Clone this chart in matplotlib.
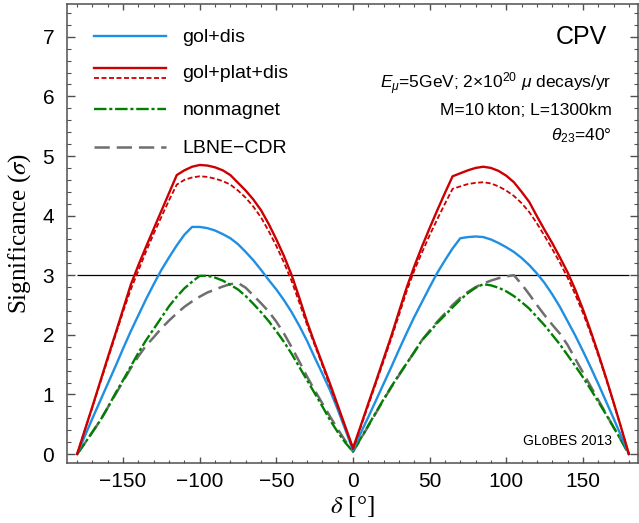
import matplotlib
matplotlib.use("Agg")
import matplotlib.pyplot as plt
from matplotlib.ticker import MultipleLocator

plt.rcParams['font.family'] = ['Liberation Sans', 'DejaVu Sans']
plt.rcParams['mathtext.fontset'] = 'custom'
plt.rcParams['mathtext.rm'] = 'Liberation Sans'
plt.rcParams['mathtext.it'] = 'Liberation Sans:italic'
plt.rcParams['lines.scale_dashes'] = False

delta = list(range(-180, 181, 5))

gol_dis = [0.00, 0.30, 0.60, 0.89, 1.18, 1.47, 1.77, 2.06, 2.33, 2.60, 2.85, 3.09, 3.30, 3.50, 3.68,
           3.81, 3.81, 3.79, 3.75, 3.69, 3.62, 3.52, 3.39, 3.25, 3.09, 2.92, 2.76, 2.58, 2.38, 2.15,
           1.90, 1.62, 1.35, 1.07, 0.75, 0.41, 0.06,
           0.35, 0.62, 0.90, 1.18, 1.46, 1.75, 2.03, 2.30, 2.55, 2.80, 3.04, 3.25, 3.45, 3.62, 3.64,
           3.65, 3.64, 3.60, 3.54, 3.47, 3.39, 3.29, 3.17, 3.03, 2.87, 2.68, 2.47, 2.23, 1.99, 1.73,
           1.46, 1.18, 0.89, 0.60, 0.30, 0.00]

gol_plat_dis = [0.00, 0.40, 0.80, 1.21, 1.62, 2.02, 2.43, 2.84, 3.17, 3.48, 3.78, 4.08, 4.38, 4.68, 4.76,
                4.82, 4.85, 4.84, 4.81, 4.76, 4.68, 4.55, 4.42, 4.27, 4.09, 3.86, 3.60, 3.32, 3.00, 2.62,
                2.22, 1.86, 1.52, 1.18, 0.82, 0.46, 0.10,
                0.47, 0.85, 1.22, 1.60, 1.98, 2.39, 2.79, 3.15, 3.48, 3.79, 4.09, 4.38, 4.66, 4.71, 4.76,
                4.80, 4.82, 4.80, 4.75, 4.67, 4.56, 4.40, 4.23, 3.99, 3.76, 3.54, 3.30, 3.05, 2.76, 2.43,
                2.07, 1.69, 1.29, 0.87, 0.44, 0.00]

gol_plat_dis_alt = [0.00, 0.40, 0.79, 1.19, 1.59, 1.99, 2.39, 2.76, 3.08, 3.40, 3.70, 3.98, 4.26, 4.52, 4.60,
                    4.64, 4.66, 4.65, 4.62, 4.58, 4.52, 4.42, 4.30, 4.15, 3.97, 3.74, 3.49, 3.21, 2.90, 2.54,
                    2.17, 1.83, 1.49, 1.14, 0.79, 0.44, 0.08,
                    0.45, 0.82, 1.19, 1.56, 1.94, 2.33, 2.73, 3.08, 3.38, 3.67, 3.94, 4.20, 4.45, 4.49, 4.53,
                    4.55, 4.56, 4.54, 4.49, 4.42, 4.33, 4.21, 4.06, 3.87, 3.66, 3.44, 3.21, 2.96, 2.68, 2.37,
                    2.03, 1.66, 1.27, 0.86, 0.44, 0.00]

nonmagnet = [0.00, 0.18, 0.37, 0.56, 0.78, 1.02, 1.24, 1.47, 1.70, 1.91, 2.10, 2.29, 2.48, 2.64, 2.78,
             2.89, 2.99, 2.99, 2.96, 2.91, 2.84, 2.76, 2.65, 2.52, 2.38, 2.23, 2.06, 1.88, 1.68, 1.46,
             1.24, 1.02, 0.80, 0.57, 0.37, 0.19, 0.04,
             0.26, 0.48, 0.70, 0.92, 1.13, 1.33, 1.52, 1.71, 1.91, 2.05, 2.20, 2.33, 2.46, 2.59, 2.70,
             2.79, 2.85, 2.83, 2.79, 2.73, 2.65, 2.55, 2.44, 2.30, 2.16, 2.00, 1.84, 1.66, 1.48, 1.29,
             1.09, 0.88, 0.67, 0.45, 0.23, 0.00]

lbne_cdr = [0.00, 0.18, 0.37, 0.56, 0.78, 1.00, 1.22, 1.44, 1.64, 1.82, 1.96, 2.11, 2.24, 2.36, 2.47,
            2.56, 2.64, 2.71, 2.76, 2.81, 2.85, 2.87, 2.79, 2.66, 2.53, 2.39, 2.22, 2.02, 1.79, 1.55,
            1.30, 1.07, 0.85, 0.63, 0.42, 0.22, 0.04,
            0.25, 0.47, 0.69, 0.91, 1.12, 1.32, 1.52, 1.71, 1.91, 2.07, 2.22, 2.36, 2.50, 2.62, 2.72,
            2.80, 2.86, 2.91, 2.95, 2.98, 3.00, 2.85, 2.68, 2.50, 2.33, 2.17, 2.02, 1.83, 1.60, 1.37,
            1.14, 0.91, 0.68, 0.45, 0.23, 0.00]

threshold = 3.0

legend_labels = ["gol+dis", "gol+plat+dis", "nonmagnet", "LBNE\u2212CDR"]

C_BLUE = '#1E8FE3'
C_RED = '#CC0000'
C_GREEN = '#008000'
C_GRAY = '#6E6E6E'
LS_RED_D = (0, (3.6, 1.8))
LS_GREEN = (0, (9.0, 2.0, 2.2, 2.0))
LS_GRAY = (0, (11.0, 5.0))

fig = plt.figure(figsize=(6.39, 5.23), dpi=100)
ax = fig.add_axes([0.1044, 0.1141, 0.8941, 0.8782])

ax.hlines(threshold, delta[0], delta[-1], color='black', lw=0.9, zorder=1)
ax.plot(delta, lbne_cdr, color=C_GRAY, lw=1.8, ls=LS_GRAY, dash_capstyle='butt', zorder=2)
ax.plot(delta, nonmagnet, color=C_GREEN, lw=1.7, ls=LS_GREEN, dash_capstyle='butt', zorder=3)
ax.plot(delta, gol_dis, color=C_BLUE, lw=1.7, zorder=4)
ax.plot(delta, gol_plat_dis_alt, color=C_RED, lw=1.3, ls=LS_RED_D, dash_capstyle='butt', zorder=5)
ax.plot(delta, gol_plat_dis, color=C_RED, lw=1.7, zorder=6)

ax.set_xlim(-186.8, 186.0)
ax.set_ylim(-0.156, 7.55)

ax.xaxis.set_major_locator(MultipleLocator(50))
ax.xaxis.set_minor_locator(MultipleLocator(10))
ax.yaxis.set_major_locator(MultipleLocator(1))
ax.yaxis.set_minor_locator(MultipleLocator(0.2))

spc = '#505050'
for s in ax.spines.values():
    s.set_color(spc)
    s.set_linewidth(1.1)
ax.tick_params(axis='both', which='both', direction='in', top=True, right=True, color=spc,
               labelsize=15, labelcolor='black')
ax.tick_params(axis='x', which='major', length=4, width=1.0, pad=6)
ax.tick_params(axis='x', which='minor', length=2.3, width=0.8)
ax.tick_params(axis='y', which='major', length=5.5, width=1.0, pad=9)
ax.tick_params(axis='y', which='minor', length=3, width=0.8)

# legend drawn in axes fraction
lx0, lx1, tx = 0.0483, 0.1733, 0.2023
ax.plot([lx0, lx1], [0.9303, 0.9303], transform=ax.transAxes, color=C_BLUE, lw=1.7)
ax.plot([lx0, lx1], [0.8600, 0.8600], transform=ax.transAxes, color=C_RED, lw=1.7)
ax.plot([lx0, lx1], [0.8395, 0.8395], transform=ax.transAxes, color=C_RED, lw=1.3, ls=LS_RED_D,
        dash_capstyle='butt')
ax.plot([lx0, lx1], [0.7707, 0.7707], transform=ax.transAxes, color=C_GREEN, lw=1.7, ls=LS_GREEN,
        dash_capstyle='butt')
ax.plot([lx0, lx1], [0.6893, 0.6893], transform=ax.transAxes, color=C_GRAY, lw=1.8, ls=LS_GRAY,
        dash_capstyle='butt')
for lab, yb in zip(legend_labels, [0.9180, 0.8382, 0.7583, 0.6749]):
    ax.text(tx, yb, lab, transform=ax.transAxes, fontsize=14, ha='left', va='baseline')

ax.text(0.9452, 0.9288, "CPV", transform=ax.transAxes, fontsize=18, ha='right', va='center')
ax.text(0.954, 0.8165, r"$E_\mu$=5GeV; 2×10$^{20}$ $\mu$ decays/yr", transform=ax.transAxes,
        fontsize=12.5, ha='right', va='baseline')
ax.text(0.954, 0.7585, "M=10\u2009kton; L=1300km", transform=ax.transAxes,
        fontsize=12.5, ha='right', va='baseline')
ax.text(0.954, 0.7039, r"$\theta_{23}$=40°", transform=ax.transAxes,
        fontsize=12.5, ha='right', va='baseline')
ax.text(0.954, 0.0398, "GLoBES 2013", transform=ax.transAxes, fontsize=10, ha='right', va='baseline')

fig.text(0.551, 0.0306, r"$\delta$ [°]", fontsize=18, ha='center', va='center',
         family=['Liberation Serif', 'DejaVu Serif'], math_fontfamily='stix')
fig.text(0.030, 0.5535, r"Significance ($\sigma$)", fontsize=18, ha='center', va='center', rotation=90,
         family=['Liberation Serif', 'DejaVu Serif'], math_fontfamily='stix')

fig.savefig("out.png", dpi=100)
